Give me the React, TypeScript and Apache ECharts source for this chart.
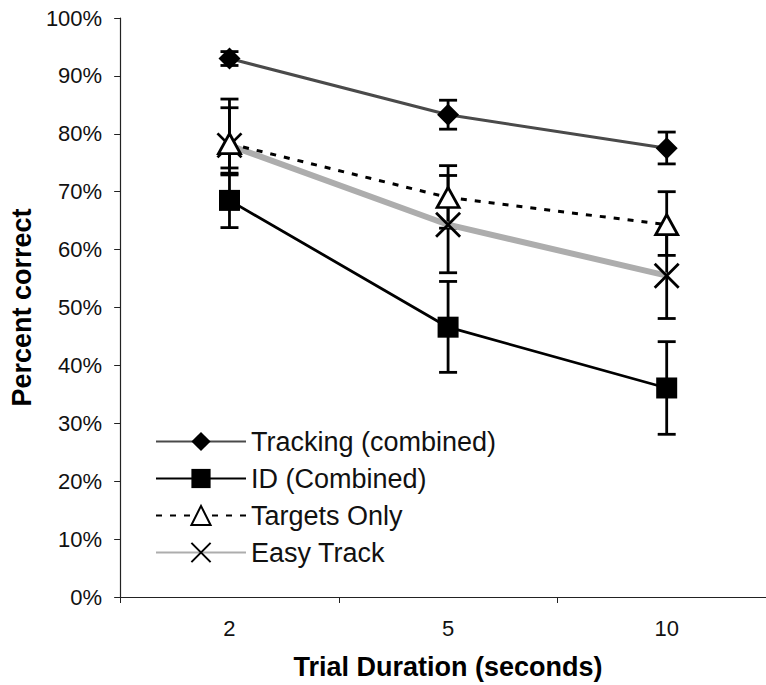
import React, { useEffect, useRef } from "react";
import * as echarts from "echarts";

const categories = ["2", "5", "10"];
const yTicks = [0, 100, 10];

const seriesNames = ["Tracking (combined)", "ID (Combined)", "Targets Only", "Easy Track"];

const tracking = [93.0, 83.3, 77.5];
const trackingLow = [91.8, 80.8, 74.8];
const trackingHigh = [94.2, 85.8, 80.3];

const idCombined = [68.5, 46.6, 36.1];
const idLow = [63.8, 38.8, 28.1];
const idHigh = [73.2, 54.5, 44.1];

const targetsOnly = [78.3, 69.0, 64.3];
const targetsLow = [74.1, 63.7, 59.0];
const targetsHigh = [84.5, 74.5, 70.0];

const easyTrack = [78.0, 64.3, 55.5];
const easyLow = [72.9, 56.0, 48.1];
const easyHigh = [86.0, 72.8, 62.9];

const FONT = "'Liberation Sans', Arial, Helvetica, sans-serif";

function errorSeries(low: number[], high: number[]) {
  const data = low.map((l, i) => [i, l, high[i]]);
  return {
    type: "custom",
    silent: true,
    z: 1,
    data,
    renderItem: (params: any, api: any) => {
      const x = api.value(0);
      const lo = api.coord([x, api.value(1)]);
      const hi = api.coord([x, api.value(2)]);
      const cw = 9;
      const style = { stroke: "#000", lineWidth: 2.8 };
      return {
        type: "group",
        children: [
          { type: "line", shape: { x1: lo[0], y1: lo[1], x2: hi[0], y2: hi[1] }, style },
          { type: "line", shape: { x1: lo[0] - cw, y1: lo[1], x2: lo[0] + cw, y2: lo[1] }, style },
          { type: "line", shape: { x1: hi[0] - cw, y1: hi[1], x2: hi[0] + cw, y2: hi[1] }, style },
        ],
      };
    },
  };
}

export default function App() {
  const ref = useRef<HTMLDivElement>(null);
  useEffect(() => {
    if (!ref.current) return;
    const chart = echarts.init(ref.current, null, { renderer: "svg" });
    chart.setOption({
      animation: false,
      backgroundColor: "#fff",
      grid: { left: 116, right: 0, top: 18, bottom: 87 },
      legend: {
        orient: "vertical",
        left: 150,
        top: 423,
        itemWidth: 90,
        itemHeight: 24,
        itemGap: 10,
        data: seriesNames,
        textStyle: { fontFamily: FONT, fontSize: 27, color: "#111" },
      },
      xAxis: {
        type: "category",
        data: categories,
        axisLine: { lineStyle: { color: "#222", width: 1.2 } },
        axisTick: { show: true, length: 6, lineStyle: { color: "#222" } },
        axisLabel: { fontFamily: FONT, fontSize: 22, color: "#111", margin: 20 },
        name: "Trial Duration (seconds)",
        nameLocation: "middle",
        nameGap: 56,
        nameTextStyle: { fontFamily: FONT, fontSize: 27, fontWeight: "bold", color: "#000" },
      },
      yAxis: {
        type: "value",
        min: yTicks[0],
        max: yTicks[1],
        interval: yTicks[2],
        splitLine: { show: false },
        axisLine: { show: true, lineStyle: { color: "#222", width: 1.2 } },
        axisTick: { show: true, length: 6, lineStyle: { color: "#222" } },
        axisLabel: { fontFamily: FONT, fontSize: 22, color: "#111", margin: 18, formatter: "{value}%" },
        name: "Percent correct",
        nameLocation: "middle",
        nameGap: 76,
        nameTextStyle: { fontFamily: FONT, fontSize: 27, fontWeight: "bold", color: "#000" },
      },
      series: [
        errorSeries(trackingLow, trackingHigh),
        errorSeries(idLow, idHigh),
        errorSeries(targetsLow, targetsHigh),
        errorSeries(easyLow, easyHigh),
        {
          name: seriesNames[3],
          type: "line",
          z: 2,
          data: easyTrack,
          symbol: "path://M0,0L10,10M10,0L0,10",
          symbolSize: 24,
          lineStyle: { color: "#adadad", width: 6 },
          itemStyle: { color: "none", borderColor: "#000", borderWidth: 2.8 },
        },
        {
          name: seriesNames[2],
          type: "line",
          z: 3,
          data: targetsOnly,
          symbol: "triangle",
          symbolSize: [22, 20],
          lineStyle: { color: "#000", width: 3, type: [6, 8] },
          itemStyle: { color: "#fff", borderColor: "#000", borderWidth: 2.8 },
        },
        {
          name: seriesNames[1],
          type: "line",
          z: 3,
          data: idCombined,
          symbol: "rect",
          symbolSize: 21,
          lineStyle: { color: "#000", width: 2.8 },
          itemStyle: { color: "#000" },
        },
        {
          name: seriesNames[0],
          type: "line",
          z: 3,
          data: tracking,
          symbol: "diamond",
          symbolSize: 22,
          lineStyle: { color: "#4a4a4a", width: 3 },
          itemStyle: { color: "#000" },
        },
      ],
    });
    return () => chart.dispose();
  }, []);
  return (
    <div style={{ position: "fixed", left: 0, top: 0, width: 766, height: 685, overflow: "hidden" }}>
      <div ref={ref} style={{ width: 776, height: 685 }} />
    </div>
  );
}
